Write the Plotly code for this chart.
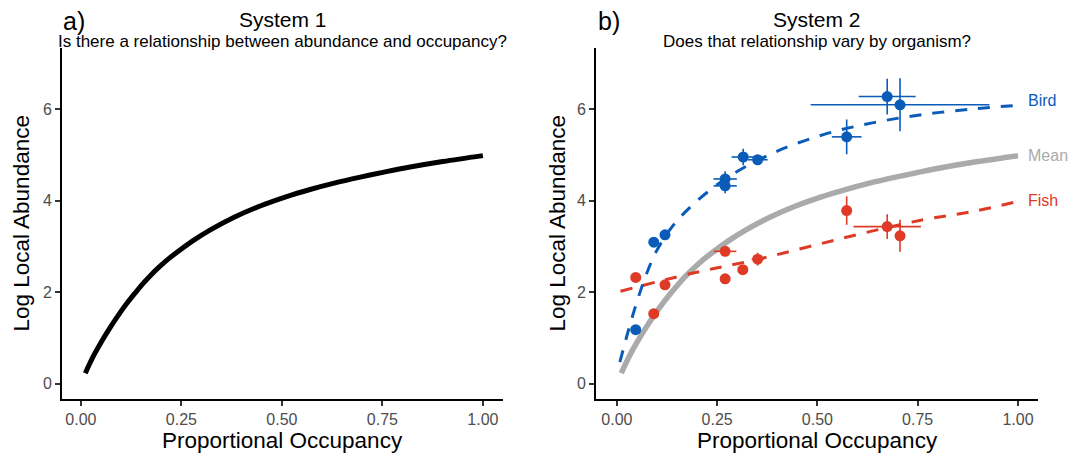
import plotly.graph_objects as go

# ---- data ----
mean_x = [0.011, 0.031, 0.05, 0.073, 0.095, 0.114, 0.135, 0.156, 0.175, 0.195, 0.217, 0.239, 0.28, 0.322,
          0.38, 0.446, 0.51, 0.570, 0.63, 0.695, 0.76, 0.819, 0.9, 1.0]
mean_y = [0.23, 0.60, 0.90, 1.23, 1.52, 1.75, 1.98, 2.20, 2.38, 2.55, 2.72, 2.87, 3.13, 3.36,
          3.63, 3.88, 4.08, 4.24, 4.38, 4.51, 4.63, 4.73, 4.85, 4.98]

bird_line_x = [0.0075, 0.028, 0.049, 0.074, 0.099, 0.137, 0.174, 0.224, 0.286, 0.39, 0.515, 0.64, 0.765, 0.89, 1.0]
bird_line_y = [0.47, 1.14, 1.76, 2.40, 2.90, 3.42, 3.78, 4.17, 4.56, 5.04, 5.44, 5.70, 5.88, 6.00, 6.08]

fish_line_x = [0.009, 0.182, 0.348, 0.597, 0.764, 0.888, 1.0]
fish_line_y = [2.02, 2.40, 2.71, 3.25, 3.58, 3.76, 3.98]

bird_x = [0.047, 0.092, 0.120, 0.270, 0.270, 0.315, 0.351, 0.573, 0.674, 0.706]
bird_y = [1.18, 3.09, 3.25, 4.47, 4.32, 4.95, 4.89, 5.39, 6.27, 6.09]
bird_ex = [0, 0, 0, 0.029, 0.029, 0.029, 0.025, 0.037, 0.071, 0.223]
bird_ey = [0, 0, 0, 0.17, 0.16, 0.18, 0.10, 0.38, 0.39, 0.58]

fish_x = [0.047, 0.092, 0.120, 0.270, 0.270, 0.314, 0.351, 0.573, 0.674, 0.706]
fish_y = [2.32, 1.53, 2.16, 2.89, 2.29, 2.49, 2.72, 3.78, 3.43, 3.23]
fish_ex = [0, 0, 0, 0.028, 0, 0, 0.015, 0.005, 0.084, 0.010]
fish_ey = [0, 0, 0, 0.05, 0, 0, 0.14, 0.31, 0.27, 0.35]

group_labels = ["Bird", "Mean", "Fish"]
label_y = [6.18, 4.98, 4.00]

x_ticks = [0.0, 0.25, 0.5, 0.75, 1.0]
x_ticktext = ["0.00", "0.25", "0.50", "0.75", "1.00"]
y_ticks = [0, 2, 4, 6]

BLUE = "#0b5cb9"
RED = "#de3a26"
GREY = "#aaaaaa"
FONT = "Liberation Sans, Arial, Helvetica, sans-serif"

fig = go.Figure()

# Panel a
fig.add_trace(go.Scatter(x=mean_x, y=mean_y, mode="lines", line=dict(color="black", width=5, shape="spline"),
                         xaxis="x", yaxis="y", showlegend=False))

# Panel b
fig.add_trace(go.Scatter(x=mean_x, y=mean_y, mode="lines", line=dict(color=GREY, width=5.5, shape="spline"),
                         xaxis="x2", yaxis="y2", showlegend=False))
fig.add_trace(go.Scatter(x=fish_line_x, y=fish_line_y, mode="lines",
                         line=dict(color=RED, width=3, dash="12px,11px", shape="spline"),
                         xaxis="x2", yaxis="y2", showlegend=False))
fig.add_trace(go.Scatter(x=bird_line_x, y=bird_line_y, mode="lines",
                         line=dict(color=BLUE, width=3, dash="12px,11px", shape="spline"),
                         xaxis="x2", yaxis="y2", showlegend=False))
fig.add_trace(go.Scatter(x=fish_x, y=fish_y, mode="markers",
                         marker=dict(color=RED, size=11),
                         error_x=dict(type="data", array=fish_ex, color=RED, thickness=1.6, width=0),
                         error_y=dict(type="data", array=fish_ey, color=RED, thickness=1.6, width=0),
                         xaxis="x2", yaxis="y2", showlegend=False))
fig.add_trace(go.Scatter(x=bird_x, y=bird_y, mode="markers",
                         marker=dict(color=BLUE, size=11),
                         error_x=dict(type="data", array=bird_ex, color=BLUE, thickness=1.6, width=0),
                         error_y=dict(type="data", array=bird_ey, color=BLUE, thickness=1.6, width=0),
                         xaxis="x2", yaxis="y2", showlegend=False))

W, H = 1069, 458
ydom = [(H - 399) / H, (H - 48) / H]

axis_common = dict(showline=True, linecolor="black", linewidth=2, ticks="outside", ticklen=5,
                   tickwidth=1.6, tickcolor="#333333", showgrid=False, zeroline=False,
                   tickfont=dict(family=FONT, size=16, color="#4d4d4d"))

fig.update_layout(
    width=W, height=H,
    margin=dict(l=0, r=0, t=0, b=0),
    plot_bgcolor="white", paper_bgcolor="white",
    xaxis=dict(domain=[62 / W, 503 / W], range=[-0.047, 1.05], anchor="y",
               tickvals=x_ticks, ticktext=x_ticktext, **axis_common),
    yaxis=dict(domain=ydom, range=[-0.334, 7.33], anchor="x", tickvals=y_ticks, **axis_common),
    xaxis2=dict(domain=[596 / W, 1038 / W], range=[-0.052, 1.05], anchor="y2",
                tickvals=x_ticks, ticktext=x_ticktext, **axis_common),
    yaxis2=dict(domain=ydom, range=[-0.334, 7.33], anchor="x2", tickvals=y_ticks, **axis_common),
)

ann = []
def txt(x, y, s, size, color="black", xanchor="center", angle=0, xref="paper", yref="paper"):
    ann.append(dict(x=x, y=y, xref=xref, yref=yref, text=s, showarrow=False, xanchor=xanchor,
                    yanchor="middle", textangle=angle, font=dict(family=FONT, size=size, color=color)))

def py(ypix):
    return (H - ypix) / H

# titles
txt(282.5 / W, py(19), "System 1", 21)
txt(282.5 / W, py(41), "Is there a relationship between abundance and occupancy?", 17)
txt(817 / W, py(19), "System 2", 21)
txt(817 / W, py(42), "Does that relationship vary by organism?", 17)
txt(61 / W, py(21), "a)", 25, xanchor="left")
txt(596 / W, py(21), "b)", 25, xanchor="left")
# axis titles
txt(282.5 / W, py(440), "Proportional Occupancy", 22.5)
txt(817 / W, py(440), "Proportional Occupancy", 22.5)
txt(21 / W, (ydom[0] + ydom[1]) / 2, "Log Local Abundance", 22.5, angle=-90)
txt(557 / W, (ydom[0] + ydom[1]) / 2, "Log Local Abundance", 22.5, angle=-90)
# group labels
colors = [BLUE, GREY, RED]
for lab, yv, c in zip(group_labels, label_y, colors):
    txt(1.02, yv, lab, 16, color=c, xanchor="left", xref="x2", yref="y2")

fig.update_layout(annotations=ann)
fig.write_html("out.html", config={"displayModeBar": False},
               post_script="document.body.style.margin='0';document.body.style.padding='0';")
